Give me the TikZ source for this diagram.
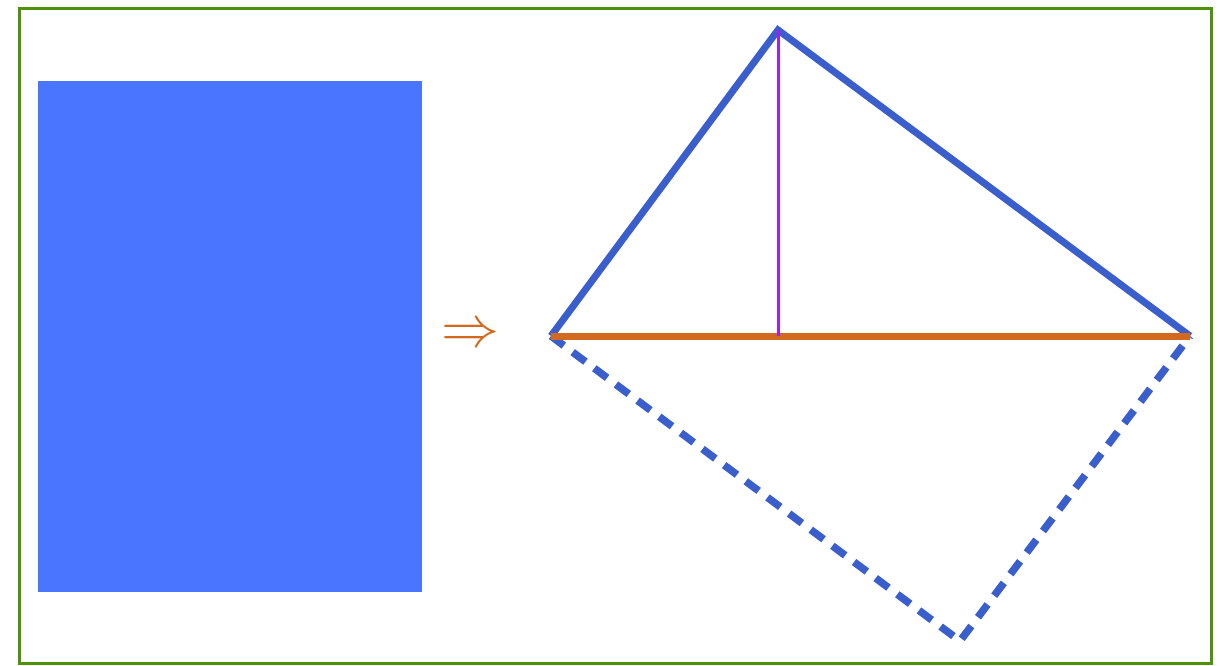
\documentclass[tikz,border=0pt]{standalone}
\usepackage{graphicx}
\definecolor{frameg}{RGB}{78,146,10}
\definecolor{rectb}{RGB}{74,118,255}
\definecolor{lineb}{RGB}{58,95,205}
\definecolor{orng}{RGB}{210,105,30}
\definecolor{purp}{RGB}{160,32,240}
\begin{document}
\begin{tikzpicture}[x=1pt,y=-1pt,
  frame/.style={draw=frameg,line width=3pt},
  tri/.style={draw=lineb,line width=7pt,line join=miter},
  dsh/.style={draw=lineb,line width=7.5pt,dash pattern=on 16pt off 11pt},
  base/.style={draw=orng,line width=7pt},
  height/.style={draw=purp,line width=3pt}]
\useasboundingbox (0,0) rectangle (1226,665);
\draw[frame] (19.5,8) rectangle (1211.5,663.5);
\fill[rectb] (38,81) rectangle (422,592);
\node[text=orng,inner sep=0pt] (arr) at (470,336) {\scalebox{5.8}{$\Rightarrow$}};
\coordinate (A) at (778,30);
\coordinate (L) at (551,336);
\coordinate (R) at (1190,336);
\coordinate (D) at (960,641);
\coordinate (H) at (778,336);
\draw[dsh] (L) -- (D) -- (R);
\draw[tri] (L) -- (A) -- (R);
\draw[base] (L) -- (R);
\draw[height] (A) -- (H);
\end{tikzpicture}
\end{document}
